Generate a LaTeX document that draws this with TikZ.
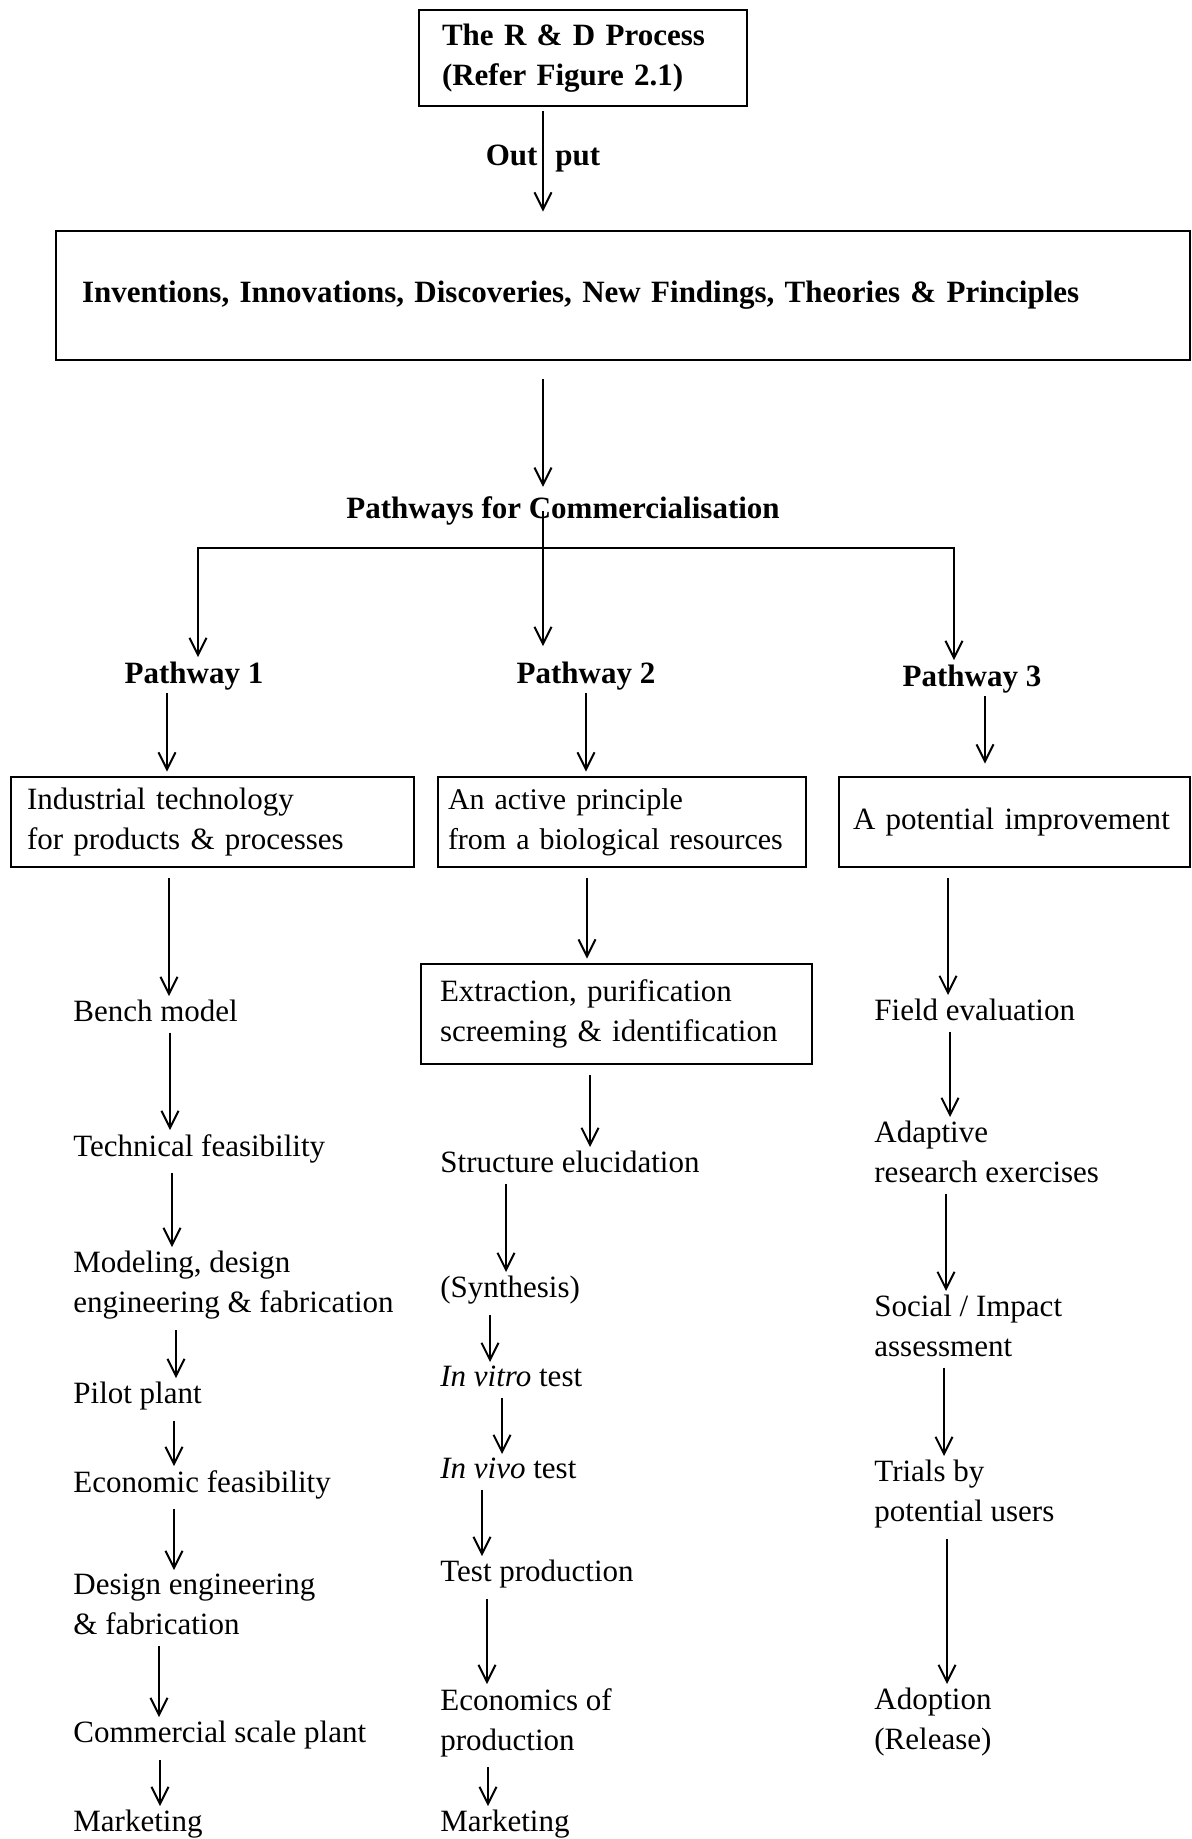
\documentclass[tikz,border=0pt]{standalone}
\usepackage{fontspec}
\setmainfont{Liberation Serif}
\usetikzlibrary{arrows.meta,calc}

\begin{document}
\begin{tikzpicture}[x=0.5pt,y={(0pt,-0.5pt)},
  every node/.style={align=left,inner sep=0pt,font=\fontsize{15.5}{20}\selectfont},
  heading/.style={font=\fontsize{15.5}{20}\selectfont\bfseries},
  block/.style={draw,line width=1.4pt,minimum height=45pt},
  stage/.style={anchor=north west},
  flow/.style={-{Straight Barb[length=8.5pt,width=8.5pt]},line width=1pt,shorten <=5pt,shorten >=2pt}]
\useasboundingbox (0,0) rectangle (1192,1839);

% R&D output
\node [block,heading,inner xsep=11.5pt,text width=141pt,minimum height=48pt] (RDProcess) at (583,58) {The R \& D Process\\(Refer Figure 2.1)};
\node [block,heading,inner xsep=13pt,text width=541pt,minimum height=64.5pt] (Findings) at (623,295.5) {Inventions, Innovations, Discoveries, New Findings, Theories \& Principles};
\draw [flow,shorten <=2pt,shorten >=9pt] (RDProcess.south -| 543,0) -- node [heading,pos=0.42] {Out\hspace{9pt}put} (Findings.north -| 543,0);

% the three pathways
\node [heading,anchor=base] (Pathways) at (563,519) {Pathways for Commercialisation};
\node [heading,anchor=base] (PathwayOne) at (194,683) {Pathway 1};
\node [heading,anchor=base] (PathwayTwo) at (586,683) {Pathway 2};
\node [heading,anchor=base] (PathwayThree) at (972,686) {Pathway 3};
\coordinate (Split) at (543,548);
\draw [flow,shorten <=9pt,shorten >=5pt] (Findings.south -| 543,0) -- (Pathways.north -| 543,0);
\draw [flow,shorten <=0pt,shorten >=7.5pt] (Pathways.center -| 543,0) -- (PathwayTwo.north -| 543,0);
\draw [flow,shorten <=0pt] (Split) -| (PathwayOne.north -| 198,0);
\draw [flow,shorten <=0pt] (Split) -| (PathwayThree.north -| 954,0);

\node [block,inner xsep=8pt,text width=185.5pt] (IndustrialTech) at (212.5,822) {Industrial technology\\for products \& processes};
\node [block,inner xsep=5pt,text width=174pt,font=\fontsize{15}{20}\selectfont] (ActivePrinciple) at (622,822) {An active principle\\from a biological resources};
\node [block,inner xsep=7pt,text width=161.5pt] (Improvement) at (1014.5,822) {A potential improvement};
\draw [flow,shorten <=1.5pt] (PathwayOne.south -| 167,0) -- (IndustrialTech.north -| 167,0);
\draw [flow,shorten <=1.5pt] (PathwayTwo.south -| 586,0) -- (ActivePrinciple.north -| 586,0);
\draw [flow,shorten <=1.5pt,shorten >=6pt] (PathwayThree.south -| 985,0) -- (Improvement.north -| 985,0);

% pathway 1
\node [stage] (BenchModel) at (73,1000) {Bench model};
\node [stage] (TechFeasibility) at (73,1134) {Technical feasibility};
\node [stage] (Modeling) at (73,1251) {Modeling, design\\engineering \& fabrication};
\node [stage] (PilotPlant) at (73,1382) {Pilot plant};
\node [stage] (EconFeasibility) at (73,1470) {Economic feasibility};
\node [stage] (DesignEng) at (73,1574) {Design engineering\\\& fabrication};
\node [stage] (CommPlant) at (73,1721) {Commercial scale plant};
\node [stage] (MarketingOne) at (73,1810) {Marketing};
\draw [flow] (IndustrialTech.south -| 169,0) -- (BenchModel.north -| 169,0);
\draw [flow] (BenchModel.south -| 170,0) -- (TechFeasibility.north -| 170,0);
\draw [flow] (TechFeasibility.south -| 172,0) -- (Modeling.north -| 172,0);
\draw [flow] (Modeling.south -| 176,0) -- (PilotPlant.north -| 176,0);
\draw [flow] (PilotPlant.south -| 174,0) -- (EconFeasibility.north -| 174,0);
\draw [flow] (EconFeasibility.south -| 174,0) -- (DesignEng.north -| 174,0);
\draw [flow] (DesignEng.south -| 159,0) -- (CommPlant.north -| 159,0);
\draw [flow] (CommPlant.south -| 160,0) -- (MarketingOne.north -| 160,0);

% pathway 2
\node [block,inner xsep=9.5pt,text width=176.5pt,minimum height=50pt] (Extraction) at (616.5,1014) {Extraction, purification\\screeming \& identification};
\node [stage] (Structure) at (440,1151) {Structure elucidation};
\node [stage] (Synthesis) at (440,1276) {(Synthesis)};
\node [stage] (InVitro) at (440,1366) {\textit{In vitro} test};
\node [stage] (InVivo) at (440,1458) {\textit{In vivo} test};
\node [stage] (TestProduction) at (440,1560) {Test production};
\node [stage] (EconProduction) at (440,1688) {Economics of\\production};
\node [stage] (MarketingTwo) at (440,1810) {Marketing};
\draw [flow] (ActivePrinciple.south -| 587,0) -- (Extraction.north -| 587,0);
\draw [flow] (Extraction.south -| 590,0) -- (Structure.north -| 590,0);
\draw [flow] (Structure.south -| 506,0) -- (Synthesis.north -| 506,0);
\draw [flow] (Synthesis.south -| 490,0) -- (InVitro.north -| 490,0);
\draw [flow] (InVitro.south -| 502,0) -- (InVivo.north -| 502,0);
\draw [flow] (InVivo.south -| 482,0) -- (TestProduction.north -| 482,0);
\draw [flow] (TestProduction.south -| 487,0) -- (EconProduction.north -| 487,0);
\draw [flow] (EconProduction.south -| 488,0) -- (MarketingTwo.north -| 488,0);

% pathway 3
\node [stage] (FieldEval) at (874,999) {Field evaluation};
\node [stage] (Adaptive) at (874,1121) {Adaptive\\research exercises};
\node [stage] (SocialImpact) at (874,1295) {Social / Impact\\assessment};
\node [stage] (Trials) at (874,1460) {Trials by\\potential users};
\node [stage] (Adoption) at (874,1688) {Adoption\\(Release)};
\draw [flow] (Improvement.south -| 948,0) -- (FieldEval.north -| 948,0);
\draw [flow] (FieldEval.south -| 950,0) -- (Adaptive.north -| 950,0);
\draw [flow] (Adaptive.south -| 946,0) -- (SocialImpact.north -| 946,0);
\draw [flow] (SocialImpact.south -| 944,0) -- (Trials.north -| 944,0);
\draw [flow] (Trials.south -| 947,0) -- (Adoption.north -| 947,0);
\end{tikzpicture}
\end{document}
